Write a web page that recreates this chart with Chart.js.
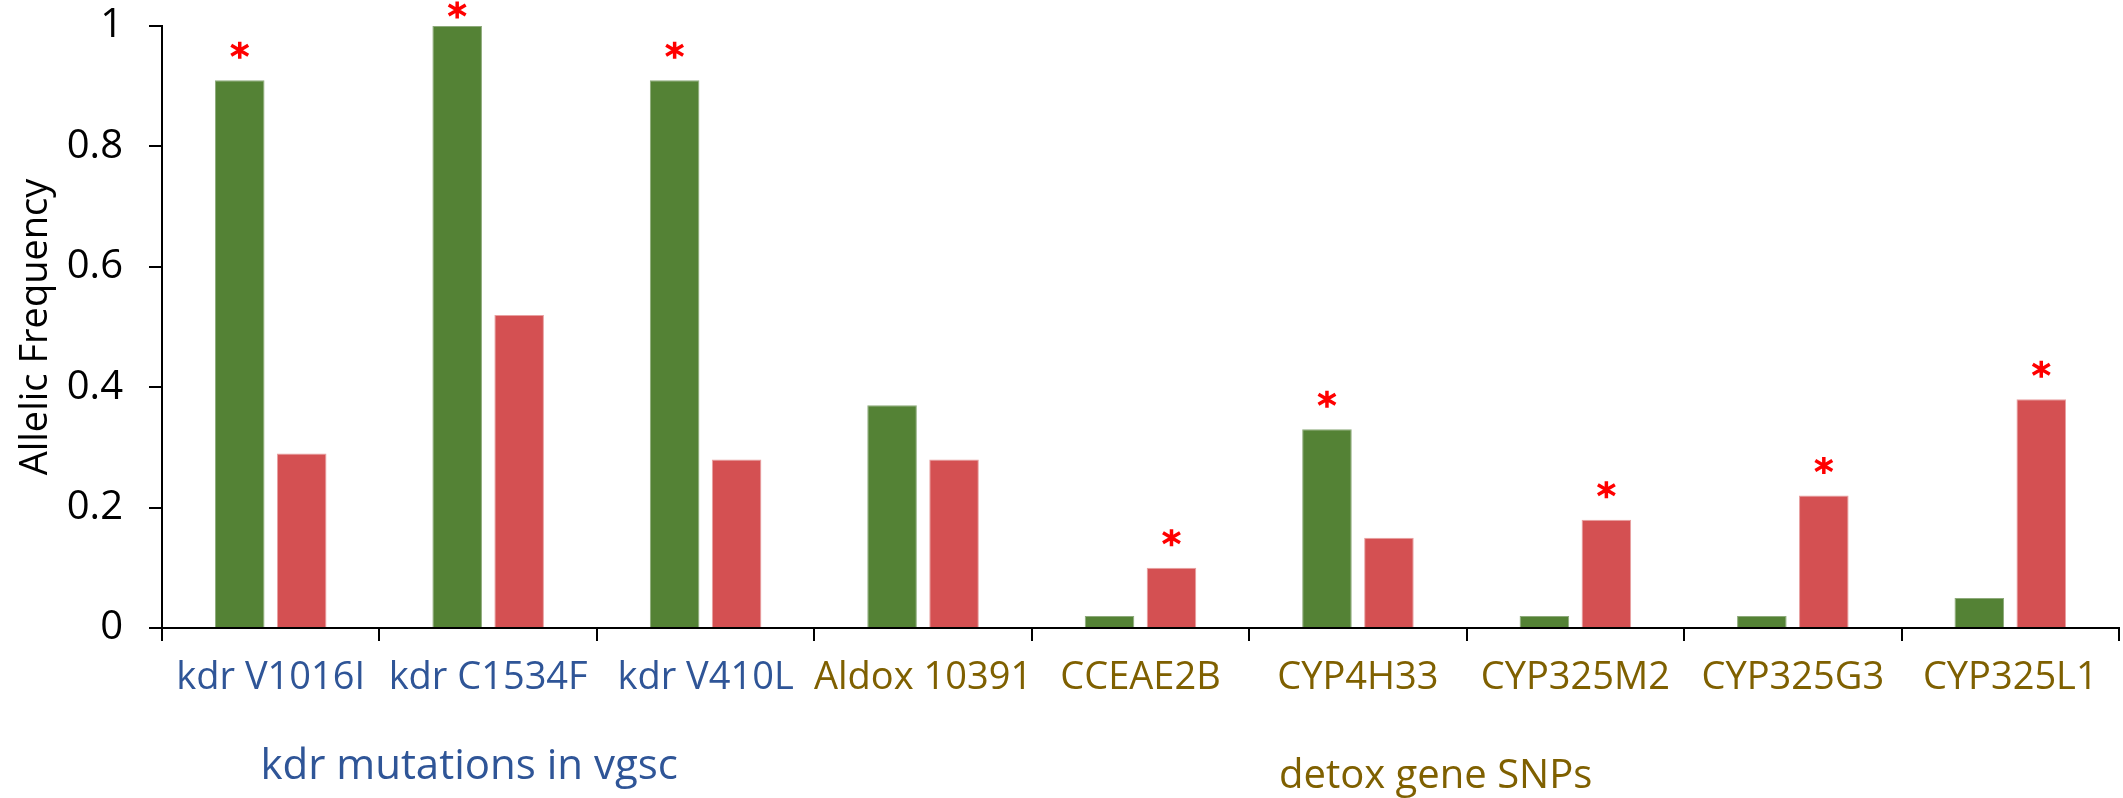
<!DOCTYPE html>
<html>
<head>
<meta charset="utf-8">
<script src="https://cdn.jsdelivr.net/npm/chart.js@4"></script>
<style>
  html, body { margin: 0; padding: 0; background: #fff; }
  #wrap { width: 2123px; height: 798px; }
</style>
</head>
<body>
<div id="wrap"><canvas id="chart" width="2123" height="798"></canvas></div>
<script>
// 資料
const categories = ['kdr V1016I', 'kdr C1534F', 'kdr V410L', 'Aldox 10391', 'CCEAE2B', 'CYP4H33', 'CYP325M2', 'CYP325G3', 'CYP325L1'];
const greenValues = [0.91, 1.0, 0.91, 0.37, 0.02, 0.33, 0.02, 0.02, 0.05];
const redValues = [0.29, 0.52, 0.28, 0.28, 0.10, 0.15, 0.18, 0.22, 0.38];
// 顯著性標記 (星號)
const greenStars = [true, true, true, false, false, true, false, false, false];
const redStars = [false, false, false, false, true, false, true, true, true];
const yTicks = [0, 0.2, 0.4, 0.6, 0.8, 1];
const groupNames = ['kdr mutations in vgsc', 'detox gene SNPs'];
const groupStart = [0, 3];
const groupEnd = [2, 8];

const BLUE = '#2F5597';
const OLIVE = '#7F6000';
const FONT = "'Open Sans', 'Liberation Sans', sans-serif";
const labelColors = categories.map((c, i) => i < groupStart[1] ? BLUE : OLIVE);

// 畫一個星號
function drawStar(ctx, cx, cy) {
    const r = 8.5;
    ctx.beginPath();
    ctx.moveTo(cx, cy - r);
    ctx.lineTo(cx, cy + r);
    const dx = 8.5, dy = 5;
    ctx.moveTo(cx - dx, cy - dy);
    ctx.lineTo(cx + dx, cy + dy);
    ctx.moveTo(cx + dx, cy - dy);
    ctx.lineTo(cx - dx, cy + dy);
    ctx.stroke();
}

// 星號與分組標題
const annotatePlugin = {
    id: 'annotate',
    afterDatasetsDraw(chart) {
        const ctx = chart.ctx;
        const starSets = [greenStars, redStars];
        ctx.save();
        ctx.strokeStyle = '#FF0000';
        ctx.lineWidth = 3.5;
        ctx.lineCap = 'butt';
        starSets.forEach((stars, di) => {
            const meta = chart.getDatasetMeta(di);
            stars.forEach((on, j) => {
                if (!on) return;
                const bar = meta.data[j];
                drawStar(ctx, bar.x, Math.max(bar.y - 30, 10));
            });
        });
        ctx.restore();
    },
    afterDraw(chart) {
        const ctx = chart.ctx;
        const x = chart.scales.x;
        const half = (x.getPixelForValue(1) - x.getPixelForValue(0)) / 2;
        const baselines = [779, 788];
        const shifts = [-19, -31];
        const sizes = [42, 40];
        const colors = [BLUE, OLIVE];
        ctx.save();
        ctx.textAlign = 'center';
        ctx.textBaseline = 'alphabetic';
        groupNames.forEach((name, g) => {
            const left = x.getPixelForValue(groupStart[g]) - half;
            const right = x.getPixelForValue(groupEnd[g]) + half;
            ctx.font = `${sizes[g]}px ${FONT}`;
            ctx.fillStyle = colors[g];
            ctx.fillText(name, (left + right) / 2 + shifts[g], baselines[g]);
        });
        ctx.restore();
    }
};

new Chart(document.getElementById('chart'), {
    type: 'bar',
    data: {
        labels: categories,
        datasets: [
            {
                data: greenValues,
                backgroundColor: '#548235',
                borderColor: '#8DAA7A',
                borderWidth: { top: 1, left: 1, right: 1, bottom: 0 },
                categoryPercentage: 0.57,
                barPercentage: 0.8
            },
            {
                data: redValues,
                backgroundColor: '#D45052',
                borderColor: '#E8A0A1',
                borderWidth: { top: 1, left: 1, right: 1, bottom: 0 },
                categoryPercentage: 0.57,
                barPercentage: 0.8
            }
        ]
    },
    options: {
        responsive: false,
        animation: false,
        layout: { padding: { top: 26, right: 4, left: 0, bottom: 0 } },
        plugins: {
            legend: { display: false },
            tooltip: { enabled: false }
        },
        scales: {
            x: {
                border: { color: '#000', width: 2 },
                grid: {
                    display: true,
                    drawOnChartArea: false,
                    drawTicks: true,
                    tickLength: 13,
                    color: '#000',
                    lineWidth: 2
                },
                ticks: {
                    color: (c) => labelColors[c.index],
                    font: { family: FONT, size: 38 },
                    padding: 14,
                    maxRotation: 0,
                    autoSkip: false
                },
                afterFit: (scale) => {
                    scale.height = 170;
                    scale.paddingLeft = 0;
                    scale.paddingRight = 0;
                }
            },
            y: {
                min: 0,
                max: 1,
                border: { color: '#000', width: 2 },
                grid: {
                    display: true,
                    drawOnChartArea: false,
                    drawTicks: true,
                    tickLength: 13,
                    color: '#000',
                    lineWidth: 2
                },
                afterBuildTicks: (scale) => {
                    scale.ticks = yTicks.map(v => ({ value: v }));
                },
                ticks: {
                    color: '#000',
                    font: { family: FONT, size: 40 },
                    padding: 26,
                    callback: (v) => String(+v.toFixed(1))
                },
                title: {
                    display: true,
                    text: 'Allelic Frequency',
                    color: '#000',
                    font: { family: FONT, size: 38 },
                    padding: { top: 13, bottom: 0 }
                },
                afterFit: (scale) => {
                    scale.width = 162;
                    scale.paddingTop = 0;
                    scale.paddingBottom = 0;
                }
            }
        }
    },
    plugins: [annotatePlugin]
});
</script>
</body>
</html>
